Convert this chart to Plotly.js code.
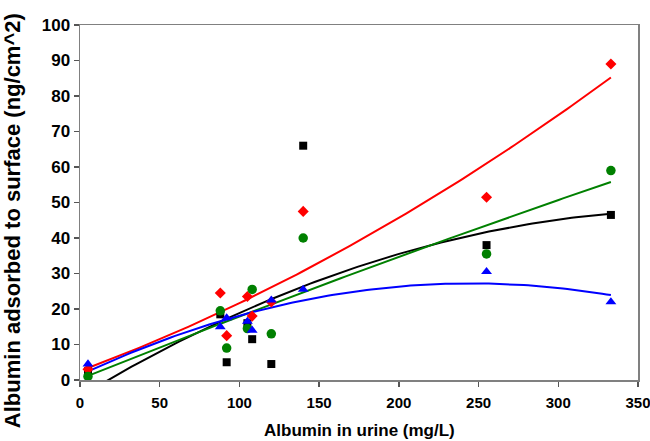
<!DOCTYPE html>
<html>
<head>
<meta charset="utf-8">
<script src="https://cdn.plot.ly/plotly-3.0.1.min.js"></script>
<style>html,body{margin:0;padding:0;background:#fff;}#chart{width:650px;height:441px;}</style>
</head>
<body>
<div id="chart"></div>
<script>
// Albumin in urine (mg/L) for each sample
const xBlack = [5, 88, 92, 105, 108, 120, 140, 255, 333];
const yBlack = [2.5, 18.5, 5, 16, 11.5, 4.5, 66, 38, 46.5];
const xRed = [5, 88, 92, 105, 108, 120, 140, 255, 333];
const yRed = [3, 24.5, 12.5, 23.5, 18, 22, 47.5, 51.5, 89];
const xGreen = [5, 88, 92, 105, 108, 120, 140, 255, 333];
const yGreen = [1, 19.5, 9, 14.5, 25.5, 13, 40, 35.5, 59];
const xBlue = [5, 88, 92, 105, 108, 120, 140, 255, 333];
const yBlue = [4.5, 15, 17.5, 16.5, 14, 22.5, 25.5, 30.5, 22];

const xTicks = [0, 50, 100, 150, 200, 250, 300, 350];
const yTicks = [0, 10, 20, 30, 40, 50, 60, 70, 80, 90, 100];

const xTitle = 'Albumin in urine (mg/L)';
const yTitle = 'Albumin adsorbed to surface (ng/cm^2)';

// least-squares second-order polynomial trendline (as in the original chart)
function polyFit2(xs, ys) {
  let s = [0,0,0,0,0], t = [0,0,0];
  for (let i = 0; i < xs.length; i++) {
    let p = 1;
    for (let k = 0; k < 5; k++) { s[k] += p; p *= xs[i]; }
    t[0] += ys[i]; t[1] += ys[i]*xs[i]; t[2] += ys[i]*xs[i]*xs[i];
  }
  const A = [[s[0],s[1],s[2],t[0]],[s[1],s[2],s[3],t[1]],[s[2],s[3],s[4],t[2]]];
  for (let c = 0; c < 3; c++) {
    for (let r = c+1; r < 3; r++) {
      const f = A[r][c]/A[c][c];
      for (let k = c; k < 4; k++) A[r][k] -= f*A[c][k];
    }
  }
  const b = [0,0,0];
  for (let r = 2; r >= 0; r--) {
    let v = A[r][3];
    for (let k = r+1; k < 3; k++) v -= A[r][k]*b[k];
    b[r] = v/A[r][r];
  }
  return b;
}
function trend(xs, ys) {
  const b = polyFit2(xs, ys);
  const lo = Math.min(...xs), hi = Math.max(...xs);
  const X = [], Y = [];
  for (let i = 0; i <= 120; i++) {
    const x = lo + (hi-lo)*i/120;
    X.push(x); Y.push(b[0] + b[1]*x + b[2]*x*x);
  }
  return {X, Y};
}

const series = [
  {x: xBlack, y: yBlack, color: '#000000', symbol: 'square', size: 8},
  {x: xRed, y: yRed, color: '#ff0000', symbol: 'diamond', size: 8.5},
  {x: xGreen, y: yGreen, color: '#008000', symbol: 'circle', size: 9.5},
  {x: xBlue, y: yBlue, color: '#0000ff', symbol: 'triangle-up', size: 9.5}
];

const traces = [];
series.forEach(s => {
  const tr = trend(s.x, s.y);
  traces.push({x: tr.X, y: tr.Y, mode: 'lines', line: {color: s.color, width: 2}, hoverinfo: 'skip', showlegend: false});
});
series.forEach(s => {
  traces.push({x: s.x, y: s.y, mode: 'markers', marker: {color: s.color, symbol: s.symbol, size: s.size, line: {width: 0}}, showlegend: false});
});

const FONT = 'Liberation Sans, Arial, sans-serif';
const layout = {
  width: 650, height: 441,
  margin: {l: 80, r: 12, t: 25, b: 61},
  paper_bgcolor: '#fff', plot_bgcolor: '#fff',
  font: {family: FONT, color: '#000'},
  showlegend: false,
  xaxis: {
    range: [0, 350], tickvals: xTicks, ticktext: xTicks.map(String),
    showgrid: false, zeroline: false,
    showline: true, linecolor: '#808080', linewidth: 1.5, mirror: true,
    ticks: 'outside', ticklen: 5, tickcolor: '#555', tickwidth: 1.5,
    ticklabelstandoff: 3, ticklabeloverflow: 'allow',
    tickfont: {size: 15, family: FONT, weight: 'bold'}
  },
  yaxis: {
    range: [0, 100], tickvals: yTicks, ticktext: yTicks.map(String),
    showgrid: false, zeroline: false,
    showline: true, linecolor: '#808080', linewidth: 1.5, mirror: true,
    ticks: 'outside', ticklen: 5, tickcolor: '#555', tickwidth: 1.5,
    tickfont: {size: 17, family: FONT, weight: 'bold'}
  },
  annotations: [
    {text: '<b>' + xTitle + '</b>', xref: 'paper', yref: 'paper', x: 0.5, y: -0.141,
     xanchor: 'center', yanchor: 'middle', showarrow: false, font: {size: 17, family: FONT, color: '#000'}},
    {text: '<b>' + yTitle + '</b>', xref: 'paper', yref: 'paper', x: -0.122, y: 0.45,
     xanchor: 'center', yanchor: 'middle', textangle: -90, showarrow: false, font: {size: 22, family: FONT, color: '#000'}}
  ]
};

Plotly.newPlot('chart', traces, layout, {displayModeBar: false, staticPlot: true});
</script>
</body>
</html>
